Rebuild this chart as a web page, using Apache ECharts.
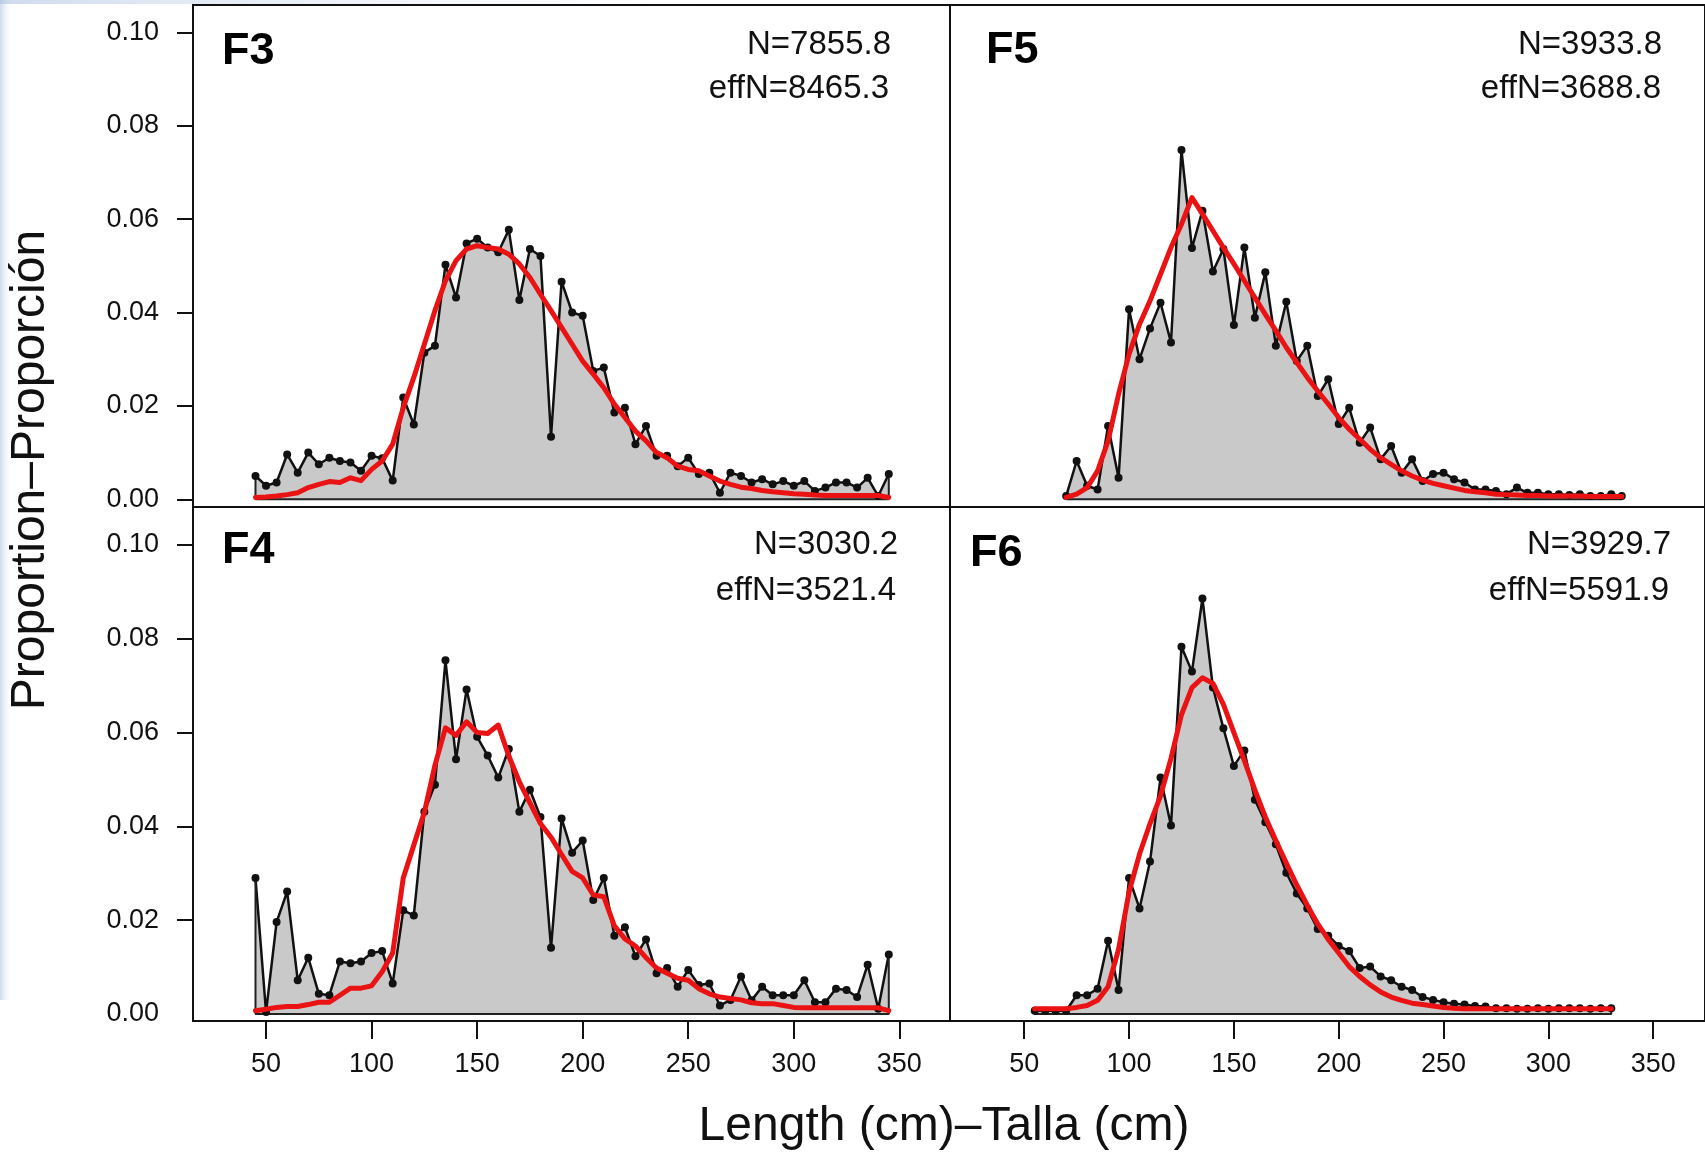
<!DOCTYPE html>
<html>
<head>
<meta charset="utf-8">
<script src="https://cdn.jsdelivr.net/npm/echarts@6/dist/echarts.min.js"></script>
<style>
html,body{margin:0;padding:0;background:#fff;}
#chart{width:1705px;height:1153px;}
</style>
</head>
<body>
<div id="chart"></div>
<script>
// ---------- data ----------
const lengthsF3F4 = [45,50,55,60,65,70,75,80,85,90,95,100,105,110,115,120,125,130,135,140,145,150,155,160,165,170,175,180,185,190,195,200,205,210,215,220,225,230,235,240,245,250,255,260,265,270,275,280,285,290,295,300,305,310,315,320,325,330,335,340,345];
const lengthsF5 = [70,75,80,85,90,95,100,105,110,115,120,125,130,135,140,145,150,155,160,165,170,175,180,185,190,195,200,205,210,215,220,225,230,235,240,245,250,255,260,265,270,275,280,285,290,295,300,305,310,315,320,325,330,335];
const lengthsF6 = [55,60,65,70,75,80,85,90,95,100,105,110,115,120,125,130,135,140,145,150,155,160,165,170,175,180,185,190,195,200,205,210,215,220,225,230,235,240,245,250,255,260,265,270,275,280,285,290,295,300,305,310,315,320,325,330];

const obsF3 = [0.0050,0.0029,0.0036,0.0096,0.0057,0.0100,0.0075,0.0089,0.0082,0.0079,0.0061,0.0093,0.0088,0.0040,0.0218,0.0160,0.0314,0.0329,0.0502,0.0432,0.0548,0.0558,0.0539,0.0529,0.0577,0.0427,0.0536,0.0521,0.0134,0.0466,0.0400,0.0393,0.0275,0.0282,0.0186,0.0196,0.0118,0.0157,0.0093,0.0093,0.0071,0.0089,0.0054,0.0057,0.0014,0.0057,0.0050,0.0036,0.0043,0.0032,0.0039,0.0029,0.0039,0.0018,0.0025,0.0036,0.0036,0.0025,0.0046,0.0007,0.0054];
const fitF3 = [0.0004,0.0005,0.0007,0.0010,0.0014,0.0025,0.0032,0.0038,0.0036,0.0046,0.0040,0.0064,0.0082,0.0118,0.0196,0.0261,0.0332,0.0404,0.0468,0.0511,0.0536,0.0543,0.0539,0.0536,0.0525,0.0504,0.0475,0.0439,0.0404,0.0368,0.0332,0.0296,0.0268,0.0239,0.0204,0.0175,0.0146,0.0125,0.0100,0.0089,0.0071,0.0064,0.0061,0.0050,0.0039,0.0032,0.0026,0.0023,0.0019,0.0016,0.0014,0.0012,0.0011,0.0009,0.0008,0.0008,0.0008,0.0008,0.0008,0.0008,0.0004];

const obsF4 = [0.0290,0.0004,0.0196,0.0261,0.0072,0.0120,0.0043,0.0040,0.0112,0.0108,0.0112,0.0130,0.0134,0.0065,0.0221,0.0210,0.0431,0.0489,0.0754,0.0543,0.0692,0.0591,0.0551,0.0504,0.0565,0.0431,0.0478,0.0420,0.0141,0.0417,0.0344,0.0370,0.0243,0.0290,0.0167,0.0185,0.0123,0.0159,0.0087,0.0098,0.0058,0.0094,0.0062,0.0065,0.0018,0.0030,0.0080,0.0029,0.0058,0.0040,0.0040,0.0040,0.0072,0.0025,0.0025,0.0054,0.0051,0.0036,0.0105,0.0011,0.0127];
const fitF4 = [0.0007,0.0010,0.0014,0.0016,0.0016,0.0020,0.0025,0.0025,0.0040,0.0055,0.0055,0.0060,0.0090,0.0130,0.0290,0.0360,0.0430,0.0530,0.0610,0.0594,0.0623,0.0600,0.0598,0.0616,0.0550,0.0495,0.0450,0.0406,0.0377,0.0340,0.0304,0.0290,0.0254,0.0250,0.0188,0.0160,0.0145,0.0120,0.0098,0.0087,0.0076,0.0072,0.0054,0.0043,0.0036,0.0033,0.0030,0.0024,0.0022,0.0022,0.0018,0.0014,0.0013,0.0013,0.0013,0.0013,0.0013,0.0013,0.0013,0.0013,0.0007];

const obsF5 = [0.0007,0.0082,0.0029,0.0021,0.0157,0.0046,0.0407,0.0300,0.0366,0.0421,0.0336,0.0748,0.0538,0.0618,0.0488,0.0536,0.0373,0.0539,0.0389,0.0486,0.0329,0.0423,0.0296,0.0329,0.0221,0.0257,0.0161,0.0196,0.0121,0.0154,0.0086,0.0114,0.0057,0.0086,0.0039,0.0054,0.0057,0.0043,0.0036,0.0021,0.0021,0.0018,0.0011,0.0025,0.0014,0.0014,0.0011,0.0011,0.0009,0.0011,0.0007,0.0007,0.0011,0.0007];
const fitF5 = [0.0004,0.0011,0.0025,0.0061,0.0125,0.0225,0.0311,0.0375,0.0425,0.0482,0.0539,0.0589,0.0646,0.0611,0.0575,0.0539,0.0504,0.0468,0.0432,0.0396,0.0361,0.0325,0.0293,0.0261,0.0232,0.0204,0.0175,0.0150,0.0129,0.0107,0.0089,0.0075,0.0061,0.0050,0.0041,0.0034,0.0029,0.0024,0.0019,0.0016,0.0014,0.0011,0.0010,0.0009,0.0008,0.0008,0.0007,0.0007,0.0007,0.0007,0.0006,0.0006,0.0006,0.0006];

const obsF6 = [0.0007,0.0007,0.0007,0.0007,0.0040,0.0040,0.0054,0.0156,0.0051,0.0290,0.0225,0.0325,0.0504,0.0402,0.0783,0.0730,0.0886,0.0696,0.0609,0.0529,0.0562,0.0457,0.0409,0.0362,0.0301,0.0257,0.0225,0.0181,0.0167,0.0145,0.0134,0.0098,0.0101,0.0080,0.0072,0.0058,0.0051,0.0036,0.0030,0.0025,0.0022,0.0020,0.0017,0.0016,0.0012,0.0012,0.0011,0.0011,0.0012,0.0011,0.0012,0.0012,0.0012,0.0011,0.0012,0.0012];
const fitF6 = [0.0011,0.0011,0.0011,0.0011,0.0014,0.0018,0.0029,0.0058,0.0138,0.0260,0.0341,0.0406,0.0465,0.0545,0.0638,0.0696,0.0717,0.0705,0.0660,0.0600,0.0540,0.0478,0.0420,0.0370,0.0322,0.0275,0.0232,0.0192,0.0159,0.0130,0.0101,0.0080,0.0062,0.0047,0.0036,0.0029,0.0023,0.0020,0.0017,0.0014,0.0012,0.0011,0.0011,0.0011,0.0011,0.0011,0.0011,0.0011,0.0011,0.0011,0.0011,0.0011,0.0011,0.0011,0.0011,0.0011];

const yTickValues = [0, 0.02, 0.04, 0.06, 0.08, 0.10];
const xTickValues = [50, 100, 150, 200, 250, 300, 350];

const panelNames = ['F3', 'F5', 'F4', 'F6'];
const panelN = ['N=7855.8', 'N=3933.8', 'N=3030.2', 'N=3929.7'];
const panelEffN = ['effN=8465.3', 'effN=3688.8', 'effN=3521.4', 'effN=5591.9'];
const xTitle = 'Length (cm)\u2013Talla (cm)';
const yTitle = 'Proportion\u2013Proporci\u00f3n';

// ---------- layout ----------
const FONT = '"Liberation Sans", Arial, Helvetica, sans-serif';
const panels = [
  {len: lengthsF3F4, obs: obsF3, fit: fitF3, grid: {left:193, top:5, width:757, height:502}, x:[15.4, 374.0], y:[-0.00165, 0.10585], yAxis:true, xAxis:false, yTicks:yTickValues},
  {len: lengthsF5,   obs: obsF5, fit: fitF5, grid: {left:950, top:5, width:757, height:502}, x:[14.6, 374.7], y:[-0.00165, 0.10585], yAxis:false, xAxis:false},
  {len: lengthsF3F4, obs: obsF4, fit: fitF4, grid: {left:193, top:507, width:757, height:514}, x:[15.4, 374.0], y:[-0.0015, 0.1081], yAxis:true, xAxis:true, yTicks:yTickValues.slice(1)},
  {len: lengthsF6,   obs: obsF6, fit: fitF6, grid: {left:950, top:507, width:757, height:514}, x:[14.6, 374.7], y:[-0.0015, 0.1081], yAxis:false, xAxis:true}
];

const grids = [], xAxes = [], yAxes = [], series = [];
panels.forEach((p, i) => {
  grids.push(Object.assign({show:true, borderColor:'#111', borderWidth:2, backgroundColor:'transparent', containLabel:false}, p.grid));
  xAxes.push({
    gridIndex:i, type:'value', min:p.x[0], max:p.x[1],
    axisLine:{show:p.xAxis, onZero:false, lineStyle:{color:'#111', width:2}},
    axisTick:{show:p.xAxis, length:18, lineStyle:{color:'#111', width:2}, customValues:xTickValues},
    axisLabel:{show:p.xAxis, customValues:xTickValues, margin:30, fontSize:27, color:'#111', fontFamily:FONT},
    splitLine:{show:false}
  });
  yAxes.push({
    gridIndex:i, type:'value', min:p.y[0], max:p.y[1],
    axisLine:{show:p.yAxis, onZero:false, lineStyle:{color:'#111', width:2}},
    axisTick:{show:p.yAxis, length:16, lineStyle:{color:'#111', width:2}, customValues:p.yTicks || yTickValues},
    axisLabel:{show:p.yAxis, customValues:yTickValues, margin:34, fontSize:27, color:'#111', fontFamily:FONT,
               padding:[8,0,0,0], formatter:(v)=>Number(v).toFixed(2)},
    splitLine:{show:false}
  });
  const obsData = p.len.map((x, k) => [x, p.obs[k]]);
  const fitData = p.len.map((x, k) => [x, p.fit[k]]);
  const n = p.len.length - 1;
  const outline = [[p.len[0], p.obs[0]], [p.len[0], 0], [p.len[n], 0], [p.len[n], p.obs[n]]];
  series.push({
    type:'line', xAxisIndex:i, yAxisIndex:i, data:obsData,
    symbol:'circle', symbolSize:8, showSymbol:true,
    itemStyle:{color:'#111'}, lineStyle:{color:'#111', width:2.5},
    areaStyle:{color:'#c9c9c9', opacity:1, origin:0},
    z:2, silent:true
  });
  series.push({
    type:'line', xAxisIndex:i, yAxisIndex:i, data:outline,
    showSymbol:false, lineStyle:{color:'#222', width:2}, z:2, silent:true
  });
  series.push({
    type:'line', xAxisIndex:i, yAxisIndex:i, data:fitData,
    showSymbol:false, lineStyle:{color:'#ea1212', width:5, join:'round', cap:'round'}, z:4, silent:true
  });
});

// ---------- texts ----------
const labelPos = [
  {fx:222, fy:51.5, nx:891,  ny:45,  ex:889,  ey:88.5},
  {fx:986, fy:50.5, nx:1662, ny:45,  ex:1661, ey:88.5},
  {fx:222, fy:551,  nx:898,  ny:545, ex:896,  ey:591},
  {fx:970, fy:554,  nx:1671, ny:545, ex:1669, ey:591}
];
const graphics = [
  {type:'rect', shape:{x:0, y:0, width:11, height:1000}, z:0, silent:true,
   style:{fill:new echarts.graphic.LinearGradient(0,0,1,0,[{offset:0,color:'rgba(165,190,222,0.55)'},{offset:1,color:'rgba(220,230,242,0)'}])}},
  {type:'rect', shape:{x:0, y:0, width:700, height:4}, z:0, silent:true,
   style:{fill:new echarts.graphic.LinearGradient(0,0,1,0,[{offset:0,color:'rgba(160,185,220,0.5)'},{offset:1,color:'rgba(220,230,242,0)'}])}}
];
labelPos.forEach((L, i) => {
  graphics.push({type:'text', x:L.fx, y:L.fy, z:10, style:{text:panelNames[i], fill:'#000', font:'bold 45px ' + FONT, textAlign:'left', textVerticalAlign:'middle'}});
  graphics.push({type:'text', x:L.nx, y:L.ny, z:10, style:{text:panelN[i], fill:'#111', font:'33px ' + FONT, textAlign:'right', textVerticalAlign:'middle'}});
  graphics.push({type:'text', x:L.ex, y:L.ey, z:10, style:{text:panelEffN[i], fill:'#111', font:'33px ' + FONT, textAlign:'right', textVerticalAlign:'middle'}});
});
graphics.push({type:'text', x:944, y:1127, z:10, style:{text:xTitle, fill:'#111', font:'48px ' + FONT, textAlign:'center', textVerticalAlign:'middle'}});
graphics.push({type:'text', x:31, y:470, rotation:Math.PI/2, z:10, style:{text:yTitle, fill:'#111', font:'48px ' + FONT, textAlign:'center', textVerticalAlign:'middle'}});

const chart = echarts.init(document.getElementById('chart'), null, {renderer:'canvas'});
chart.setOption({
  backgroundColor:'#ffffff',
  animation:false,
  grid:grids, xAxis:xAxes, yAxis:yAxes, series:series,
  graphic:graphics
});
</script>
</body>
</html>
